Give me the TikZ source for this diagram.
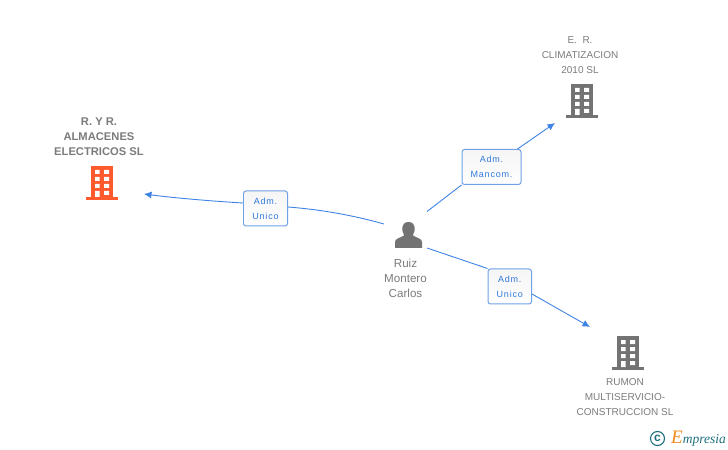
\documentclass[tikz,border=0pt]{standalone}
\usepackage{fontspec}
\setmainfont{Liberation Sans}
\newfontfamily\spacedfont[LetterSpace=9]{Liberation Sans}
\newfontfamily\logofont{Liberation Serif}
\usetikzlibrary{arrows.meta}
\definecolor{linkblue}{HTML}{3F83E4}
\definecolor{boxblue}{HTML}{6FA0E6}
\definecolor{labelblue}{HTML}{2F78DC}
\definecolor{graytext}{HTML}{7C7C7C}
\definecolor{iconorange}{HTML}{FF5A2D}
\definecolor{icongray}{HTML}{737373}
\definecolor{logoteal}{HTML}{1F6F80}
\definecolor{logoorange}{HTML}{F08A1D}
\newcommand{\buildicon}[3]{%
  \begin{scope}[shift={(#1,#2)}]
    \fill[#3] (5,0) rectangle (27,32);
    \fill[#3] (0,31) rectangle (32,34);
    \fill[white] (9,4) rectangle (13.5,8) (18,4) rectangle (23,8)
      (9,11) rectangle (13.5,15) (18,11) rectangle (23,15)
      (9,18) rectangle (13.5,22) (18,18) rectangle (23,22)
      (9,25) rectangle (13.5,31) (18,25) rectangle (23,29);
  \end{scope}}
\tikzset{
  x=1bp,y=-1bp,
  caption/.style={font=\fontsize{10bp}{15bp}\selectfont,text=graytext,align=center,inner sep=0pt},
  personcaption/.style={font=\fontsize{11.6bp}{15bp}\selectfont,text=graytext,align=center,inner sep=0pt},
  boldcaption/.style={font=\fontsize{11.2bp}{15bp}\selectfont,text=graytext,align=center,inner sep=0pt},
  rolebox/.style={draw=boxblue,line width=1pt,rounded corners=2.5pt,top color=white!96!black,bottom color=white,
    font=\spacedfont\fontsize{9bp}{15bp}\selectfont,text=labelblue,align=center,inner sep=0pt,anchor=north west},
  link/.style={draw=linkblue,line width=0.9pt},
  linktip/.style={-{Latex[length=7.5bp,width=7bp]}},
}
\begin{document}
\begin{tikzpicture}
\useasboundingbox (0,0) rectangle (728,450);
\fill[white] (0,0) rectangle (728,450);

\buildicon{86}{166}{iconorange}
\buildicon{566}{84}{icongray}
\buildicon{612}{336}{icongray}

\node[boldcaption] (ryr) at (99,137) {\textbf{R. Y R.}\\ \textbf{ALMACENES}\\ \textbf{ELECTRICOS SL}};
\node[caption] (er) at (580,55) {E.\ \ R.\\ CLIMATIZACION\\ 2010 SL};
\node[caption] (rumon) at (625,397) {RUMON\\ MULTISERVICIO-\\ CONSTRUCCION SL};
\node[personcaption] (ruiz) at (405.5,278) {Ruiz\\ Montero\\ Carlos};

% person
\fill[icongray] (395,248) -- (395,242) .. controls (395,238.5) and (400,238) .. (404,235.5)
  .. controls (404,234) and (403,233) .. (402.5,231) .. controls (401.5,224) and (405,222) .. (408.5,222)
  .. controls (412,222) and (415.5,224) .. (414.5,231) .. controls (414,233) and (413,234) .. (413,235.5)
  .. controls (417,238) and (422,238.5) .. (422,242) -- (422,248) -- cycle;

\node[rolebox,minimum width=44bp,minimum height=35bp] (unico1) at (243,190.5) {Adm.\\ Unico};
\node[rolebox,minimum width=59bp,minimum height=35bp] (mancom) at (461.5,149) {Adm.\\ Mancom.};
\node[rolebox,minimum width=43.5bp,minimum height=35bp] (unico2) at (487.5,268.5) {Adm.\\ Unico};

\coordinate (fromleft) at (384,224);
\coordinate (fromtop) at (427,211.5);
\coordinate (fromlow) at (427,248);
\coordinate (tipleft) at (144,194);
\coordinate (tiptop) at (555,123);
\coordinate (tiplow) at (590,327);

\draw[link] (fromleft) .. controls (352,215) and (320,209.5) .. (unico1.east |- 0,207);
\draw[link,linktip] (unico1.west |- 0,203) .. controls (210,201) and (175,198) .. (tipleft);
\draw[link] (fromtop) -- (mancom.south west);
\draw[link,linktip] (mancom.north east) ++(-4,0) -- (tiptop);
\draw[link] (fromlow) -- (unico2.north west);
\draw[link,linktip] (unico2.east |- 0,294) -- (tiplow);

% logo
\node[circle,draw=logoteal,line width=1.1pt,inner sep=0pt,minimum size=14bp,text=logoteal,font=\fontsize{12bp}{12bp}\selectfont\bfseries] (copy) at (657.5,438.5) {c};
\node[anchor=west,inner sep=0pt,font=\logofont\itshape\fontsize{13.5bp}{13.5bp}\selectfont,text=logoteal] (brand) at (671,438.5) {{\color{logoorange}\fontsize{19bp}{19bp}\selectfont E}mpresia};
\end{tikzpicture}
\end{document}
